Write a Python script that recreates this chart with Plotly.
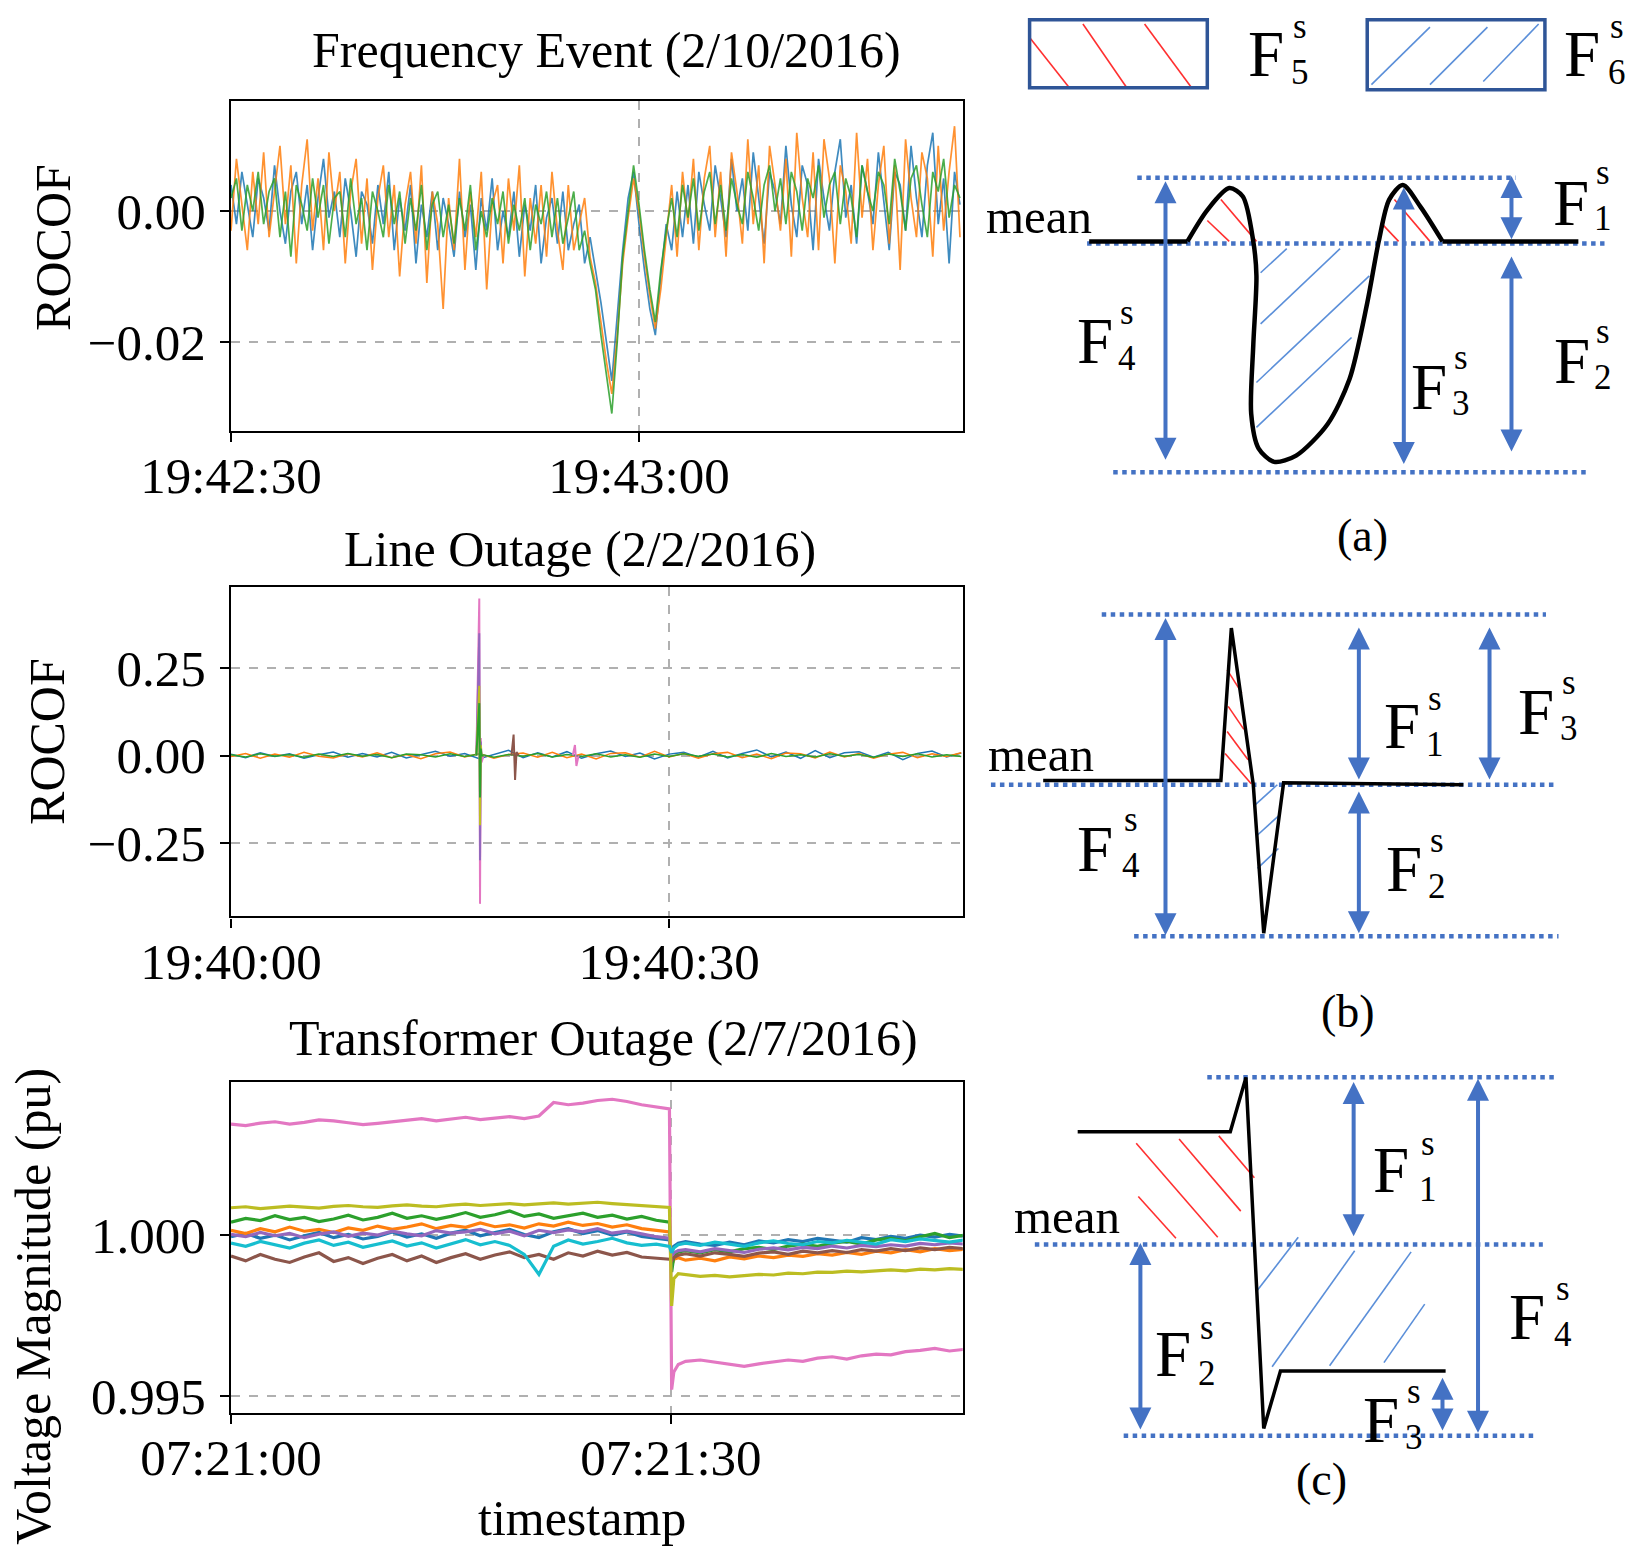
import pandas as pd
import plotly.graph_objects as go

# ---------------- data: left column (measurements) ----------------
freq_start = "2016-02-10 19:42:30"
freq_blue = [0.004, -0.002, 0.006, 0.001, -0.004, 0.005, 0.002, -0.003, 0.007, 0.000,
             -0.005, 0.003, 0.006, -0.002, 0.004, -0.006, 0.002, 0.008, -0.001, 0.003,
             -0.004, 0.005, 0.000, -0.007, 0.003, 0.001, -0.005, 0.004, -0.002, 0.006,
             -0.006, 0.002, -0.003, 0.004, -0.008, 0.001, -0.004, 0.003, -0.006, 0.002,
             -0.002, -0.007, 0.003, -0.004, 0.001, -0.009, 0.002, -0.003, 0.005, -0.006,
             0.000, -0.004, 0.003, -0.007, 0.001, -0.003, 0.004, -0.008, -0.001, 0.002,
             -0.005, 0.003, -0.006, -0.002, 0.001, -0.008, -0.004, -0.009, -0.014, -0.020,
             -0.026, -0.016, -0.006, 0.002, 0.006, -0.002, -0.009, -0.015, -0.019, -0.010,
             -0.002, -0.006, 0.003, -0.004, 0.004, -0.005, 0.006, 0.001, -0.003, 0.007,
             0.002, -0.004, 0.008, 0.000, 0.005, -0.003, 0.009, 0.002, -0.005, 0.006,
             0.003, -0.002, 0.010, 0.001, -0.004, 0.007, 0.004, -0.006, 0.008, 0.002,
             -0.003, 0.006, 0.011, -0.001, 0.004, -0.005, 0.007, 0.003, -0.002, 0.009,
             0.001, -0.006, 0.006, 0.004, -0.003, 0.010, 0.002, -0.004, 0.007, 0.012,
             -0.002, 0.005, -0.008, 0.006, 0.001]
freq_orange = [-0.003, 0.008, 0.001, -0.006, 0.006, -0.002, 0.009, -0.004, 0.003, 0.010,
               -0.002, 0.007, -0.008, 0.004, 0.011, -0.003, 0.005, -0.006, 0.009, 0.000,
               0.006, -0.008, 0.003, 0.008, -0.005, 0.005, -0.009, 0.002, 0.007, -0.004,
               0.004, -0.010, 0.001, 0.006, -0.005, 0.007, -0.011, 0.003, -0.002, -0.015,
               0.002, -0.006, 0.008, -0.009, 0.003, -0.004, 0.006, -0.012, 0.001, 0.004,
               -0.008, 0.005, -0.003, 0.007, -0.010, 0.002, -0.005, 0.004, -0.007, 0.006,
               -0.003, -0.009, 0.004, -0.006, -0.002, 0.002, -0.007, -0.011, -0.017, -0.023,
               -0.028, -0.019, -0.008, -0.001, 0.005, 0.000, -0.007, -0.013, -0.018, -0.012,
               -0.004, 0.004, -0.007, 0.006, -0.002, 0.008, -0.006, 0.005, 0.010, -0.004,
               0.006, -0.007, 0.009, 0.003, -0.005, 0.011, -0.002, 0.007, -0.008, 0.010,
               0.004, -0.003, 0.008, -0.007, 0.012, 0.002, -0.004, 0.009, -0.006, 0.011,
               0.005, -0.008, 0.007, 0.003, -0.005, 0.012, -0.001, 0.008, -0.006, 0.004,
               0.010, -0.005, 0.007, -0.009, 0.011, 0.002, -0.004, 0.009, 0.005, -0.007,
               0.010, -0.003, 0.006, 0.013, -0.004]
freq_green = [0.002, 0.005, -0.003, 0.004, 0.000, 0.006, -0.002, 0.003, 0.005, -0.004,
              0.003, -0.007, 0.004, 0.001, -0.003, 0.005, -0.001, 0.004, -0.005, 0.002,
              0.003, -0.004, 0.005, -0.002, 0.002, -0.006, 0.003, 0.000, -0.004, 0.004,
              -0.002, 0.003, -0.005, 0.002, -0.003, 0.004, -0.006, 0.001, 0.003, -0.004,
              0.001, -0.005, 0.002, -0.003, 0.004, -0.006, 0.000, -0.004, 0.002, -0.002,
              0.003, -0.005, 0.001, -0.003, 0.002, -0.006, 0.001, -0.002, 0.003, -0.004,
              0.002, -0.005, -0.001, 0.003, -0.006, -0.003, -0.008, -0.012, -0.019, -0.025,
              -0.031, -0.020, -0.007, 0.000, 0.007, 0.001, -0.006, -0.012, -0.017, -0.009,
              -0.003, 0.002, -0.004, 0.004, -0.001, 0.005, -0.003, 0.003, 0.006, -0.002,
              0.004, -0.003, 0.005, 0.001, -0.002, 0.006, 0.002, -0.003, 0.004, 0.007,
              0.000, 0.005, -0.002, 0.006, 0.003, -0.003, 0.005, 0.002, 0.007, -0.001,
              0.004, 0.006, -0.002, 0.005, 0.002, -0.004, 0.007, 0.003, 0.000, 0.006,
              0.004, -0.002, 0.008, 0.003, -0.003, 0.005, 0.007, 0.001, -0.004, 0.006,
              0.003, 0.008, -0.001, 0.004, 0.002]

line_start = "2016-02-02 19:40:00"
line_blue = [0.004, -0.006, 0.008, -0.003, 0.005, -0.008, 0.002, 0.010, -0.005, 0.006,
             -0.004, 0.009, -0.007, 0.003, 0.012, -0.002, 0.006, -0.009, 0.004, 0.015,
             -0.006, 0.008, -0.004, 0.011, -0.008, 0.005, 0.013, -0.003, 0.007, -0.010,
             0.004, 0.009, -0.005, 0.012, -0.007, 0.006, 0.016, -0.004, 0.010, -0.008,
             0.014, -0.006, 0.008, 0.011, -0.005, 0.009, -0.012, 0.006, 0.013, -0.004, 0.007]
line_orange = [-0.003, 0.006, -0.008, 0.004, -0.005, 0.009, -0.002, -0.007, 0.005, -0.004,
               0.008, -0.006, 0.003, -0.009, 0.005, 0.010, -0.004, 0.006, -0.008, 0.003,
               0.007, -0.005, 0.009, -0.006, 0.004, -0.010, 0.006, 0.008, -0.005, 0.012,
               -0.004, 0.006, -0.008, 0.005, 0.009, -0.006, 0.004, -0.009, 0.007, 0.005,
               -0.007, 0.010, -0.004, 0.006, -0.008, 0.004, 0.009, -0.006, 0.005, -0.003, 0.008]
line_green = [0.002, -0.004, 0.005, -0.002, 0.003, -0.005, 0.004, -0.003, 0.006, -0.002,
              0.003, -0.006, 0.004, 0.002, -0.004, 0.005, -0.003, 0.004, -0.005, 0.003,
              -0.002, 0.006, -0.004, 0.003, -0.003, 0.005, -0.004, 0.002, -0.005, 0.004,
              -0.003, 0.005, -0.002, 0.004, -0.004, 0.003, -0.005, 0.006, -0.003, 0.002,
              -0.004, 0.005, -0.002, 0.003, -0.005, 0.004, -0.003, 0.005, -0.004, 0.002, -0.003]
# the outage transient (seconds after 19:40:00)
spike_t = [16.8, 17.0, 17.05, 17.1, 17.15, 17.3]
spike_pink = [0.0, 0.45, -0.425, 0.05, -0.02, 0.0]
spike_purple = [0.0, 0.35, -0.30, 0.04, 0.0, 0.0]
spike_olive = [0.0, 0.20, -0.20, 0.03, 0.0, 0.0]
spike_green = [0.0, 0.15, -0.12, 0.02, 0.0, 0.0]
ring1_t = [19.2, 19.35, 19.45, 19.55, 19.7]
ring1_brown = [0.0, 0.06, -0.07, 0.01, 0.0]
ring2_t = [23.4, 23.55, 23.65, 23.8]
ring2_pink = [0.0, 0.03, -0.03, 0.0]

volt_start = "2016-02-07 07:21:00"
volt_t = [0, 1, 2, 3, 4, 5, 6, 7, 8, 9, 10, 11, 12, 13, 14, 15, 16, 17, 18, 19,
          20, 21, 22, 23, 24, 25, 26, 27, 28, 29, 29.9, 30.05, 30.2, 30.5,
          31, 32, 33, 34, 35, 36, 37, 38, 39, 40, 41, 42, 43, 44, 45, 46, 47, 48, 49, 50]
volt_blue = [0.99995, 1.00005, 0.99990, 1.00000, 0.99985, 0.99998, 1.00008, 0.99992, 1.00002, 0.99988,
             0.99996, 1.00010, 0.99994, 1.00004, 0.99990, 1.00006, 1.00015, 0.99998, 1.00008, 1.00018,
             1.00002, 0.99992, 1.00010, 1.00020, 1.00005, 1.00014, 1.00000, 1.00010, 0.99996, 0.99990,
             0.99985, 0.99950, 0.99965, 0.99975,
             0.99980, 0.99972, 0.99968, 0.99978, 0.99970, 0.99982, 0.99976, 0.99986, 0.99980, 0.99990,
             0.99984, 0.99978, 0.99992, 0.99986, 0.99996, 0.99990, 1.00000, 0.99994, 1.00002, 0.99996]
volt_orange = [1.00015, 1.00005, 1.00020, 1.00010, 1.00025, 1.00012, 1.00018, 1.00008, 1.00022, 1.00015,
               1.00028, 1.00018, 1.00025, 1.00035, 1.00020, 1.00030, 1.00024, 1.00038, 1.00026, 1.00032,
               1.00022, 1.00035, 1.00028, 1.00040, 1.00030, 1.00036, 1.00025, 1.00032, 1.00020, 1.00015,
               1.00010, 0.99905, 0.99925, 0.99930,
               0.99922, 0.99928, 0.99920, 0.99932, 0.99926, 0.99935, 0.99930, 0.99938, 0.99934, 0.99942,
               0.99938, 0.99946, 0.99940, 0.99950, 0.99945, 0.99955, 0.99948, 0.99958, 0.99952, 0.99956]
volt_green = [1.00040, 1.00052, 1.00045, 1.00060, 1.00048, 1.00055, 1.00042, 1.00050, 1.00062, 1.00047,
              1.00055, 1.00068, 1.00052, 1.00060, 1.00049, 1.00058, 1.00070, 1.00055, 1.00063, 1.00075,
              1.00058, 1.00066, 1.00052, 1.00060, 1.00068, 1.00055, 1.00062, 1.00050, 1.00058, 1.00046,
              1.00040, 0.99885, 0.99935, 0.99948,
              0.99952, 0.99945, 0.99955, 0.99948, 0.99958, 0.99962, 0.99955, 0.99966, 0.99972, 0.99965,
              0.99975, 0.99980, 0.99972, 0.99985, 0.99990, 0.99982, 0.99995, 1.00005, 0.99992, 1.00000]
volt_purple = [1.00002, 0.99995, 1.00008, 0.99998, 1.00005, 0.99992, 1.00003, 1.00010, 0.99996, 1.00006,
               1.00000, 1.00012, 1.00004, 0.99998, 1.00014, 1.00006, 1.00010, 1.00018, 1.00004, 1.00012,
               0.99998, 1.00015, 1.00008, 1.00016, 1.00010, 1.00020, 1.00006, 1.00012, 1.00004, 0.99995,
               0.99990, 0.99930, 0.99945, 0.99952,
               0.99955, 0.99948, 0.99958, 0.99952, 0.99946, 0.99956, 0.99960, 0.99954, 0.99962, 0.99958,
               0.99966, 0.99960, 0.99968, 0.99964, 0.99970, 0.99966, 0.99974, 0.99970, 0.99976, 0.99972]
volt_brown = [0.99935, 0.99920, 0.99940, 0.99925, 0.99915, 0.99932, 0.99945, 0.99918, 0.99930, 0.99912,
              0.99928, 0.99940, 0.99920, 0.99935, 0.99915, 0.99930, 0.99942, 0.99925, 0.99938, 0.99948,
              0.99930, 0.99940, 0.99925, 0.99945, 0.99935, 0.99950, 0.99938, 0.99946, 0.99932, 0.99928,
              0.99925, 0.99920, 0.99930, 0.99938,
              0.99942, 0.99935, 0.99945, 0.99940, 0.99934, 0.99944, 0.99948, 0.99940, 0.99950, 0.99945,
              0.99952, 0.99946, 0.99955, 0.99950, 0.99958, 0.99952, 0.99960, 0.99955, 0.99962, 0.99958]
volt_pink = [1.00345, 1.00340, 1.00348, 1.00352, 1.00345, 1.00350, 1.00358, 1.00355, 1.00349, 1.00343,
             1.00347, 1.00352, 1.00358, 1.00362, 1.00355, 1.00360, 1.00366, 1.00359, 1.00364, 1.00368,
             1.00362, 1.00370, 1.00412, 1.00405, 1.00410, 1.00418, 1.00422, 1.00415, 1.00405, 1.00398,
             1.00392, 0.99520, 0.99575, 0.99598,
             0.99608, 0.99612, 0.99605, 0.99598, 0.99592, 0.99600, 0.99605, 0.99612, 0.99608, 0.99618,
             0.99622, 0.99615, 0.99625, 0.99630, 0.99628, 0.99638, 0.99642, 0.99648, 0.99640, 0.99645]
volt_olive = [1.00085, 1.00088, 1.00082, 1.00086, 1.00090, 1.00087, 1.00084, 1.00089, 1.00092, 1.00088,
              1.00086, 1.00091, 1.00094, 1.00090, 1.00088, 1.00093, 1.00096, 1.00092, 1.00095, 1.00098,
              1.00094, 1.00097, 1.00100, 1.00096, 1.00099, 1.00102, 1.00098, 1.00095, 1.00092, 1.00090,
              1.00086, 0.99780, 0.99865, 0.99880,
              0.99878, 0.99872, 0.99875, 0.99870, 0.99874, 0.99878, 0.99876, 0.99882, 0.99880, 0.99885,
              0.99884, 0.99888, 0.99886, 0.99890, 0.99892, 0.99889, 0.99894, 0.99892, 0.99896, 0.99893]
volt_cyan = [0.99975, 0.99965, 0.99980, 0.99970, 0.99960, 0.99975, 0.99985, 0.99968, 0.99978, 0.99962,
             0.99972, 0.99982, 0.99966, 0.99976, 0.99960, 0.99974, 0.99986, 0.99970, 0.99980, 0.99968,
             0.99940, 0.99878, 0.99965, 0.99985, 0.99972, 0.99980, 0.99990, 0.99976, 0.99968, 0.99972,
             0.99965, 0.99945, 0.99960, 0.99970,
             0.99975, 0.99968, 0.99978, 0.99972, 0.99965, 0.99976, 0.99982, 0.99974, 0.99970, 0.99980,
             0.99976, 0.99984, 0.99978, 0.99972, 0.99986, 0.99980, 0.99988, 0.99982, 0.99978, 0.99985]

# ---------------- data: right column (feature sketches, in sketch units) ----------------
# sketch (a): flat mean, wiggle, flat mean
sketch_a_left = ([1042, 1136], [231, 231])
sketch_a_x = [1136, 1155, 1176, 1189, 1199, 1202, 1199, 1197, 1204, 1219, 1240, 1270,
              1291, 1308, 1319, 1329, 1342, 1359, 1380]
sketch_a_y = [231, 201, 180, 188, 231, 264, 330, 396, 429, 442, 436, 406,
              363, 290, 231, 191, 177, 198, 231]
sketch_a_right = ([1380, 1510], [231, 231])
sketch_b_x = [998, 1168, 1178, 1199, 1209, 1228, 1400]
sketch_b_y = [747, 747, 601, 751, 893, 749, 751]
sketch_c_x = [1031, 1177, 1192, 1200, 1209, 1225, 1383]
sketch_c_y = [1083, 1083, 1031, 1186, 1367, 1312, 1312]

# dotted reference levels: (x_start, x_end, y)
levels = [(1088, 1450, 170), (1040, 1535, 233), (1065, 1520, 452),
          (1054, 1479, 588), (948, 1487, 751), (1085, 1491, 896),
          (1155, 1490, 1031), (990, 1476, 1191), (1075, 1470, 1374)]
# double arrows: (x, y_top, y_bottom)
arrows = [(1115, 172, 440), (1343, 178, 444), (1446, 167, 229), (1446, 244, 432),
          (1115, 590, 895), (1300, 599, 746), (1300, 756, 893), (1425, 599, 746),
          (1295, 1034, 1183), (1414, 1031, 1371), (1091, 1188, 1368), (1380, 1317, 1369)]
# hatch strokes: (x0, y0, x1, y1)
red_hatch = [(1168, 191, 1202, 231), (1155, 211, 1176, 231), (1334, 191, 1368, 231),
             (1321, 213, 1338, 231),
             (1174, 641, 1188, 663), (1175, 676, 1190, 698), (1174, 700, 1194, 727),
             (1172, 721, 1197, 750),
             (1087, 1094, 1165, 1184), (1128, 1090, 1187, 1159), (1166, 1087, 1200, 1127),
             (1089, 1145, 1125, 1185),
             (985, 36, 1023, 84), (1036, 23, 1078, 84), (1095, 23, 1140, 84)]
blue_hatch = [(1206, 261, 1231, 238), (1206, 310, 1282, 238), (1202, 366, 1310, 264),
              (1202, 409, 1293, 323),
              (1201, 770, 1222, 751), (1202, 800, 1224, 780), (1203, 831, 1223, 812),
              (1202, 1236, 1242, 1184), (1217, 1308, 1296, 1197), (1272, 1307, 1350, 1198),
              (1324, 1304, 1363, 1248),
              (1312, 81, 1368, 26), (1368, 81, 1423, 26), (1419, 78, 1472, 23)]
legend_boxes = [(985, 19, 1155, 84), (1308, 19, 1478, 86)]

# feature labels: (number, x_F, y_F, x_index, y_index)  -> F with stacked s / number
feature_labels = [("5", 1211, 52, 1244, 47), ("6", 1513, 52, 1547, 47),
                  ("4", 1048, 326, 1078, 321), ("3", 1367, 370, 1398, 364),
                  ("1", 1503, 194, 1534, 187), ("2", 1504, 345, 1534, 339),
                  ("1", 1341, 695, 1373, 690), ("3", 1469, 681, 1501, 675),
                  ("4", 1048, 812, 1082, 806), ("2", 1343, 832, 1375, 826),
                  ("1", 1331, 1120, 1366, 1116), ("4", 1461, 1260, 1495, 1255),
                  ("2", 1122, 1296, 1155, 1292), ("3", 1321, 1359, 1353, 1354)]
mean_labels = [(994, 207), (996, 722), (1021, 1164)]
panel_labels = [("(a)", 1303, 512), ("(b)", 1290, 968), ("(c)", 1264, 1416)]

# ---------------- figure ----------------
W, H = 1568, 1490          # sketch frame, scaled onto the 1639x1557 canvas
FONT = "Liberation Serif"
BLUE_ARROW = "#4472C4"
C = dict(blue="#1f77b4", orange="#ff7f0e", green="#2ca02c", purple="#9467bd",
         brown="#8c564b", pink="#e377c2", olive="#bcbd22", cyan="#17becf")


def dom_x(a, b):
    return [a / W, b / W]


def dom_y(top, bottom):
    return [1 - bottom / H, 1 - top / H]


def secs(start, offsets):
    return pd.Timestamp(start) + pd.to_timedelta(offsets, unit="s")


fig = go.Figure()

# panel 1: frequency event
freq_time = pd.date_range(freq_start, periods=len(freq_blue), freq="400ms")
for vals, col in [(freq_blue, C["blue"]), (freq_orange, C["orange"]), (freq_green, C["green"])]:
    fig.add_trace(go.Scatter(x=freq_time, y=vals, mode="lines", line=dict(color=col, width=1.7),
                             opacity=0.85, xaxis="x", yaxis="y"))

# panel 2: line outage
line_time = pd.date_range(line_start, periods=len(line_blue), freq="1s")
for vals, col in [(line_blue, C["blue"]), (line_orange, C["orange"]), (line_green, C["green"])]:
    fig.add_trace(go.Scatter(x=line_time, y=vals, mode="lines", line=dict(color=col, width=1.5),
                             xaxis="x2", yaxis="y2"))
for tt, vals, col in [(spike_t, spike_pink, C["pink"]), (spike_t, spike_purple, C["purple"]),
                      (spike_t, spike_olive, C["olive"]), (spike_t, spike_green, C["green"]),
                      (ring1_t, ring1_brown, C["brown"]), (ring2_t, ring2_pink, C["pink"])]:
    fig.add_trace(go.Scatter(x=secs(line_start, tt), y=vals, mode="lines",
                             line=dict(color=col, width=2), xaxis="x2", yaxis="y2"))

# panel 3: transformer outage
volt_time = secs(volt_start, volt_t)
for vals, col in [(volt_blue, C["blue"]), (volt_orange, C["orange"]), (volt_green, C["green"]),
                  (volt_purple, C["purple"]), (volt_brown, C["brown"]), (volt_pink, C["pink"]),
                  (volt_olive, C["olive"]), (volt_cyan, C["cyan"])]:
    fig.add_trace(go.Scatter(x=volt_time, y=vals, mode="lines", line=dict(color=col, width=3.2),
                             xaxis="x3", yaxis="y3"))

# sketches (overlay axes covering the whole canvas)
for x0, x1, y in levels:
    fig.add_trace(go.Scatter(x=[x0, x1], y=[y, y], mode="lines",
                             line=dict(color=BLUE_ARROW, width=4.5, dash="dot"),
                             xaxis="x4", yaxis="y4"))


def strokes(segs):
    xs, ys = [], []
    for x0, y0, x1, y1 in segs:
        xs += [x0, x1, None]
        ys += [y0, y1, None]
    return xs, ys


hx, hy = strokes(red_hatch)
fig.add_trace(go.Scatter(x=hx, y=hy, mode="lines", line=dict(color="#ff3030", width=1.6),
                         xaxis="x4", yaxis="y4"))
hx, hy = strokes(blue_hatch)
fig.add_trace(go.Scatter(x=hx, y=hy, mode="lines", line=dict(color="#5b8fd9", width=1.6),
                         xaxis="x4", yaxis="y4"))

for xs, ys in [sketch_a_left, sketch_a_right]:
    fig.add_trace(go.Scatter(x=xs, y=ys, mode="lines", line=dict(color="black", width=4.5),
                             xaxis="x4", yaxis="y4"))
fig.add_trace(go.Scatter(x=sketch_a_x, y=sketch_a_y, mode="lines",
                         line=dict(color="black", width=4.5, shape="spline", smoothing=0.8),
                         xaxis="x4", yaxis="y4"))
fig.add_trace(go.Scatter(x=sketch_b_x, y=sketch_b_y, mode="lines",
                         line=dict(color="black", width=3.5), xaxis="x4", yaxis="y4"))
fig.add_trace(go.Scatter(x=sketch_c_x, y=sketch_c_y, mode="lines",
                         line=dict(color="black", width=3.5), xaxis="x4", yaxis="y4"))

shapes = []
for x0, y0, x1, y1 in legend_boxes:
    shapes.append(dict(type="rect", xref="x4", yref="y4", x0=x0, y0=y0, x1=x1, y1=y1,
                       line=dict(color="#2F5597", width=3.5)))

annotations = []
for x, y0, y1 in arrows:
    annotations.append(dict(xref="x4", yref="y4", axref="x4", ayref="y4", x=x, y=y1, ax=x, ay=y0,
                            text="", showarrow=True, arrowside="end+start", arrowhead=2,
                            startarrowhead=2, arrowsize=1.1, startarrowsize=1.1, arrowwidth=4,
                            arrowcolor=BLUE_ARROW, standoff=0, startstandoff=0))


def txt(s, x, y, size, ref="x4", angle=0):
    yr = "y4" if ref == "x4" else "paper"
    if ref == "paper":
        x, y = x / W, 1 - y / H
    annotations.append(dict(xref=ref, yref=yr, x=x, y=y, text=s, showarrow=False,
                            xanchor="center", yanchor="middle", textangle=angle,
                            font=dict(family=FONT, size=size, color="black")))


for num, xf, yf, xi, yi in feature_labels:
    txt("F", xf, yf, 65)
    txt("s<br>" + num, xi, yi, 35)
for x, y in mean_labels:
    txt("mean", x, y, 49)
for s, x, y in panel_labels:
    txt(s, x, y, 46)

txt("Frequency Event (2/10/2016)", 580, 48, 50, ref="paper")
txt("Line Outage (2/2/2016)", 555, 525, 50, ref="paper")
txt("Transformer Outage (2/7/2016)", 577, 993, 50, ref="paper")
txt("ROCOF", 50, 237, 50, ref="paper", angle=-90)
txt("ROCOF", 45, 710, 50, ref="paper", angle=-90)
txt("Voltage Magnitude (pu)", 32, 1250, 50, ref="paper", angle=-90)
txt("timestamp", 557, 1453, 50, ref="paper")

axis_style = dict(showline=True, mirror=True, linecolor="black", linewidth=2.2,
                  ticks="outside", ticklen=9, tickwidth=2, tickcolor="black",
                  showgrid=True, gridcolor="#b0b0b0", griddash="dash", gridwidth=1.5,
                  zeroline=False, automargin=False,
                  tickfont=dict(family=FONT, size=51, color="black"))
x_style = dict(axis_style, type="date", tickformat="%H:%M:%S", ticklabelstandoff=-10)
y_style = dict(axis_style, ticklabelstandoff=4)

fig.update_layout(
    width=1639, height=1557, margin=dict(l=0, r=0, t=0, b=0, pad=0, autoexpand=False),
    paper_bgcolor="white", plot_bgcolor="rgba(0,0,0,0)", showlegend=False,
    xaxis=dict(x_style, domain=dom_x(221, 921), anchor="y",
               range=["2016-02-10 19:42:30", "2016-02-10 19:43:23.8"],
               tickvals=["2016-02-10 19:42:30", "2016-02-10 19:43:00"]),
    yaxis=dict(y_style, domain=dom_y(97, 412), anchor="x", range=[-0.0336, 0.0168],
               tickvals=[-0.02, 0.0], tickformat=".2f"),
    xaxis2=dict(x_style, domain=dom_x(221, 921), anchor="y2",
                range=["2016-02-02 19:40:00", "2016-02-02 19:40:50.1"],
                tickvals=["2016-02-02 19:40:00", "2016-02-02 19:40:30"]),
    yaxis2=dict(y_style, domain=dom_y(562, 877), anchor="x2", range=[-0.461, 0.482],
                tickvals=[-0.25, 0.0, 0.25], tickformat=".2f"),
    xaxis3=dict(x_style, domain=dom_x(221, 921), anchor="y3",
                range=["2016-02-07 07:21:00", "2016-02-07 07:21:49.9"],
                tickvals=["2016-02-07 07:21:00", "2016-02-07 07:21:30"]),
    yaxis3=dict(y_style, domain=dom_y(1035, 1352), anchor="x3", range=[0.99448, 1.00477],
                tickvals=[0.995, 1.0], tickformat=".3f"),
    xaxis4=dict(domain=[0, 1], range=[0, W], visible=False, anchor="y4", fixedrange=True,
                automargin=False),
    yaxis4=dict(domain=[0, 1], range=[H, 0], visible=False, anchor="x4", fixedrange=True,
                automargin=False),
    shapes=shapes, annotations=annotations,
)

# the page's default body margin would push the figure 8px right/down
fig.write_html("out.html", config={"displayModeBar": False},
               post_script="document.body.style.margin = '0';")
